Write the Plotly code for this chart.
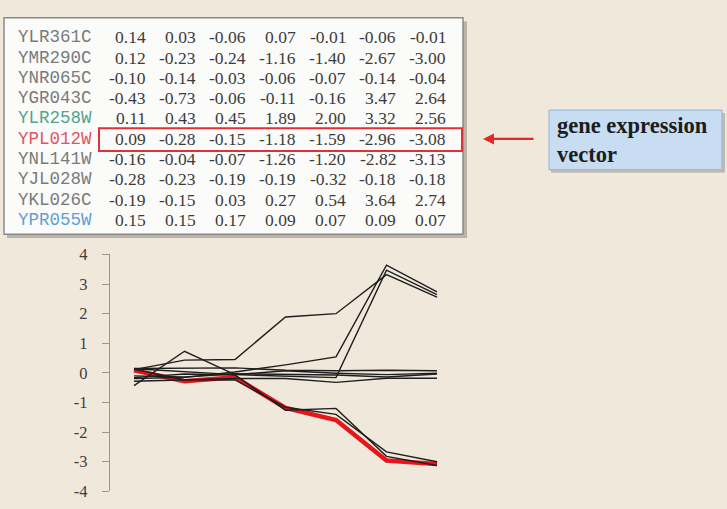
import plotly.graph_objects as go

# ---------------- data ----------------
genes = ["YLR361C", "YMR290C", "YNR065C", "YGR043C", "YLR258W",
         "YPL012W", "YNL141W", "YJL028W", "YKL026C", "YPR055W"]

# values as printed in the table
table_values = [
    [0.14, 0.03, -0.06, 0.07, -0.01, -0.06, -0.01],
    [0.12, -0.23, -0.24, -1.16, -1.40, -2.67, -3.00],
    [-0.10, -0.14, -0.03, -0.06, -0.07, -0.14, -0.04],
    [-0.43, -0.73, -0.06, -0.11, -0.16, 3.47, 2.64],
    [0.11, 0.43, 0.45, 1.89, 2.00, 3.32, 2.56],
    [0.09, -0.28, -0.15, -1.18, -1.59, -2.96, -3.08],
    [-0.16, -0.04, -0.07, -1.26, -1.20, -2.82, -3.13],
    [-0.28, -0.23, -0.19, -0.19, -0.32, -0.18, -0.18],
    [-0.19, -0.15, 0.03, 0.27, 0.54, 3.64, 2.74],
    [0.15, 0.15, 0.17, 0.09, 0.07, 0.09, 0.07],
]

# values as drawn in the line chart (YGR043C's 2nd point is drawn at +0.73)
line_values = [
    [0.14, 0.03, -0.06, 0.07, -0.01, -0.06, -0.01],
    [0.12, -0.23, -0.24, -1.16, -1.40, -2.67, -3.00],
    [-0.10, -0.14, -0.03, -0.06, -0.07, -0.14, -0.04],
    [-0.43, 0.73, -0.06, -0.11, -0.16, 3.47, 2.64],
    [0.11, 0.43, 0.45, 1.89, 2.00, 3.32, 2.56],
    [0.09, -0.28, -0.15, -1.18, -1.59, -2.96, -3.08],
    [-0.16, -0.04, -0.07, -1.26, -1.20, -2.82, -3.13],
    [-0.28, -0.23, -0.19, -0.19, -0.32, -0.18, -0.18],
    [-0.19, -0.15, 0.03, 0.27, 0.54, 3.64, 2.74],
    [0.15, 0.15, 0.17, 0.09, 0.07, 0.09, 0.07],
]

timepoints = [0, 1, 2, 3, 4, 5, 6]
highlight_gene = "YPL012W"
name_colors = {"YLR258W": "#4fa58a", "YPL012W": "#e05565", "YPR055W": "#5f9fd6"}
y_ticks = [-4, -3, -2, -1, 0, 1, 2, 3, 4]
callout_lines = ["gene expression", "vector"]

# ---------------- figure ----------------
W, H = 727, 509


def px(x):
    return x / W


def py(y):
    return 1 - y / H


fig = go.Figure()

# highlighted gene first (thick red, under the others)
hi = genes.index(highlight_gene)
fig.add_trace(go.Scatter(x=timepoints, y=line_values[hi], mode="lines",
                         line=dict(color="#e8151d", width=4.5), hoverinfo="skip"))
for g, vals in zip(genes, line_values):
    if g == highlight_gene:
        continue
    fig.add_trace(go.Scatter(x=timepoints, y=vals, mode="lines",
                             line=dict(color="#1e1e1e", width=1.4), hoverinfo="skip"))

shapes = []
annotations = []

# table box shadow + box
shapes.append(dict(type="rect", xref="paper", yref="paper", layer="below",
                   x0=px(7), x1=px(467), y0=py(13), y1=py(238),
                   fillcolor="rgba(90,80,70,0.35)", line=dict(width=0)))
shapes.append(dict(type="rect", xref="paper", yref="paper", layer="below",
                   x0=px(4), x1=px(463), y0=py(9), y1=py(234),
                   fillcolor="#fbfbfa", line=dict(color="#8a8a8a", width=1.5)))

row0, row_step = 29.5, 21.05
for r, g in enumerate(genes):
    yc = row0 + r * row_step
    annotations.append(dict(x=px(16), y=py(yc), xref="paper", yref="paper",
                            xanchor="left", yanchor="middle", showarrow=False,
                            text=g, font=dict(family="Liberation Mono", size=17.5,
                                              color=name_colors.get(g, "#7a7a7a"))))
    for c, v in enumerate(table_values[r]):
        annotations.append(dict(x=px(148 + 50 * c), y=py(yc), xref="paper", yref="paper",
                                xanchor="right", yanchor="middle", showarrow=False,
                                text=f"{v:.2f}", font=dict(family="Liberation Serif", size=17.5,
                                                          color="#3c3c3c")))

# red highlight box
shapes.append(dict(type="rect", xref="paper", yref="paper",
                   x0=px(99), x1=px(462), y0=py(124), y1=py(147.5),
                   line=dict(color="#e0303a", width=2)))

# arrow
annotations.append(dict(x=px(483), y=py(135), xref="paper", yref="paper",
                        ax=52, ay=0, text="", showarrow=True,
                        arrowhead=2, arrowsize=1, arrowwidth=2.2, arrowcolor="#e02a2a"))

# callout box
shapes.append(dict(type="rect", xref="paper", yref="paper",
                   x0=px(551), x1=px(725), y0=py(108), y1=py(170),
                   fillcolor="rgba(90,80,70,0.3)", line=dict(width=0)))
shapes.append(dict(type="rect", xref="paper", yref="paper",
                   x0=px(549), x1=px(722), y0=py(105), y1=py(167),
                   fillcolor="#c8ddf1", line=dict(color="#8fb4da", width=1)))
annotations.append(dict(x=px(555), y=py(136), xref="paper", yref="paper",
                        xanchor="left", yanchor="middle", align="left", showarrow=False,
                        text="<br>".join(f"<b>{t}</b>" for t in callout_lines),
                        font=dict(family="Liberation Serif", size=22.5, color="#1c1c1c")))

x0_px, step_px, xend_px, axis_px = 134, 50.5, 437, 110
fig.update_layout(
    width=W, height=H, autosize=False,
    margin=dict(l=0, r=0, t=0, b=0),
    paper_bgcolor="#f0e8db", plot_bgcolor="rgba(0,0,0,0)",
    showlegend=False,
    shapes=shapes, annotations=annotations,
    xaxis=dict(domain=[px(axis_px), px(xend_px + 3)],
               range=[-(x0_px - axis_px) / step_px, 6 + 3 / step_px],
               showgrid=False, zeroline=False, showline=False,
               showticklabels=False, ticks=""),
    yaxis=dict(domain=[py(501), py(255)], range=[-4, 4],
               tickvals=y_ticks, ticktext=[str(t) for t in y_ticks],
               showgrid=False, zeroline=False, showline=True,
               linecolor="#9a9590", linewidth=1.2,
               ticks="outside", ticklen=7, tickcolor="#9a9590", tickwidth=1.2,
               ticklabelstandoff=11, ticklabeloverflow="allow",
               tickfont=dict(family="Liberation Serif", size=16.5, color="#3e3e3e")),
)

pin_js = (
    "document.documentElement.style.margin='0';"
    "document.documentElement.style.overflow='hidden';"
    "document.body.style.margin='0';document.body.style.overflow='hidden';"
    "var d=document.getElementById('{plot_id}');"
    "d.style.position='fixed';d.style.top='0px';d.style.left='0px';"
)

fig.write_html("out.html", config={"displayModeBar": False}, post_script=pin_js)
